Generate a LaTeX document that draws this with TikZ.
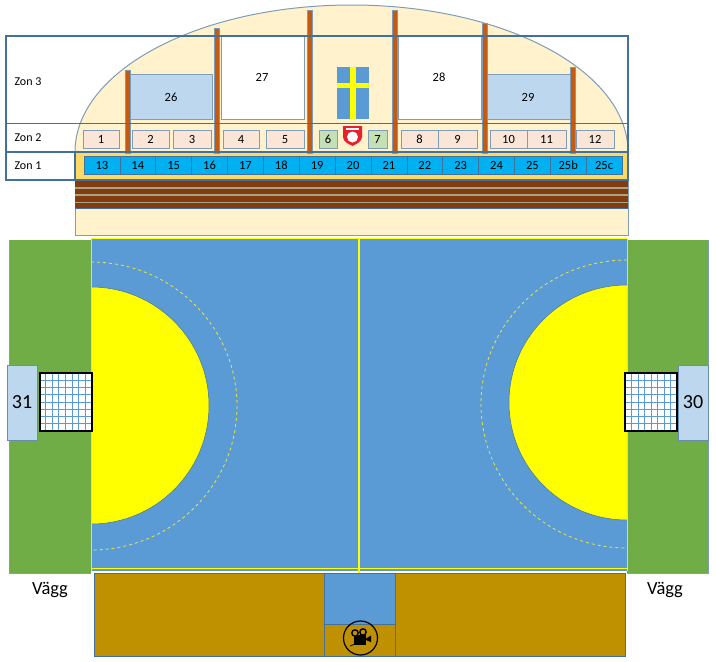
\documentclass[tikz,border=0pt]{standalone}
\usepackage{fontspec}
\setmainfont{Carlito}
\usepackage{xcolor}
\usetikzlibrary{positioning}
\definecolor{cream}{HTML}{FFF2CC}
\definecolor{zonline}{HTML}{41719C}
\definecolor{courtblue}{HTML}{5B9BD5}
\definecolor{wallgreen}{HTML}{70AD47}
\definecolor{standbrown}{HTML}{BF9000}
\definecolor{paleblue}{HTML}{BDD7EE}
\definecolor{peach}{HTML}{FBE5D6}
\definecolor{palegreen}{HTML}{C5E0B4}
\definecolor{pillar}{HTML}{C55A11}
\definecolor{cellblue}{HTML}{00B0F0}
\definecolor{rowgold}{HTML}{FFD966}
\definecolor{benchbrown}{HTML}{843C0C}
\definecolor{benchgrey}{HTML}{A5A58D}
\definecolor{thinedge}{HTML}{7F9DB9}
\definecolor{clubred}{HTML}{E8202A}
\definecolor{lineyellow}{HTML}{FFFF00}
\definecolor{dashyellow}{HTML}{E6E64A}
\tikzset{
  zonlabel/.style={font=\fontsize{12}{14}\selectfont},
  seat/.style={draw=thinedge, line width=1pt, fill=peach},
  seatgreen/.style={draw=thinedge, line width=1pt, fill=palegreen},
  bigbox/.style={draw=thinedge, line width=1pt},
  cell/.style={draw=zonline, line width=.6pt, fill=cellblue},
  post/.style={fill=pillar, draw=zonline!70, line width=.3pt},
  netbox/.style={draw=black, line width=2.6pt},
  num/.style={font=\fontsize{12.5}{14}\selectfont, text height=8pt, text depth=0pt},
  goalnum/.style={font=\fontsize{20}{22}\selectfont},
  wallnum/.style={font=\fontsize{18.5}{20}\selectfont},
}
\begin{document}
\begin{tikzpicture}[x=1pt,y=-1pt]
  \useasboundingbox (0,0) rectangle (716,662);
  \def\domeY{152}

  % stands behind the seats
  \fill[cream] (75,\domeY) arc[start angle=180, end angle=360, x radius=276.5, y radius=147] -- (628,235) -- (75,235) -- cycle;
  \draw[thinedge, line width=1pt] (75,\domeY) arc[start angle=180, end angle=360, x radius=276.5, y radius=147];
  \draw[thinedge, line width=1pt] (75,\domeY) -- (75,235) -- (628,235) -- (628,\domeY);

  % big boxes in zon 3
  \draw[bigbox, fill=paleblue] (129,74) rectangle (212,119);
  \draw[bigbox, fill=white] (221,36) rectangle (304,119);
  \draw[bigbox, fill=white] (398,36) rectangle (481,119);
  \draw[bigbox, fill=paleblue] (487,74) rectangle (570,119);
  \node[num] (n26) at (171,97) {26};
  \node[num] (n27) at (262,77) {27};
  \node[num] (n28) at (439,77) {28};
  \node[num] (n29) at (528,97) {29};

  % flag
  \fill[courtblue] (337,67) rectangle (369,119);
  \fill[lineyellow] (350,67) rectangle (356,119);
  \fill[lineyellow] (337,83) rectangle (369,88);

  % club logo
  \fill[clubred] (343,126) -- (362,126) -- (362,137) .. controls (362,142) and (356,144) .. (352.5,146) .. controls (349,144) and (343,142) .. (343,137) -- cycle;
  \fill[white] (352.5,137) circle (5.5);
  \fill[white] (346,128) rectangle (359,130);

  % seats zon 2
  \foreach \xa/\xb/\n in {83/119/1,132/169/2,173/211/3,223/259/4,266/304/5,401/438/8,438/477/9,490/527/10,527/566/11,576/614/12}{
    \draw[seat] (\xa,130) rectangle (\xb,148.5);
    \node[num] (s\n) at ({(\xa+\xb)/2},139.5) {\n};
  }
  \draw[seatgreen] (319,130) rectangle (337,148.5);
  \node[num] (s6) at (328,139.5) {6};
  \draw[seatgreen] (368,130) rectangle (387,148.5);
  \node[num] (s7) at (377.5,139.5) {7};

  % row of zon 1
  \fill[rowgold] (75,152) rectangle (628,180);
  \foreach \i/\n in {0/13,1/14,2/15,3/16,4/17,5/18,6/19,7/20,8/21,9/22,10/23,11/24,12/25,13/25b,14/25c}{
    \draw[cell] ({84+35.87*\i},156) rectangle ({84+35.87*(\i+1)},174);
    \node[num] (c\n) at ({84+35.87*(\i+.5)},165) {\n};
  }

  % benches
  \fill[benchgrey] (75,180) rectangle (628,208);
  \foreach \y in {181,188.5,196,203}{
    \fill[benchbrown] (75,\y) rectangle (628,\y+5.5);
  }
  \draw[zonline, line width=1pt] (75,208.5) -- (628,208.5);

  % posts
  \foreach \xa/\ya in {125/70,214/28,307/10,392/10,482/23,570/67}{
    \draw[post] (\xa,\ya) rectangle (\xa+5,153);
  }

  % zones
  \draw[zonline, line width=1.3pt] (6,36) rectangle (628,123.5);
  \draw[zonline, line width=1.3pt] (6,123.5) rectangle (628,152);
  \draw[zonline, line width=1.3pt] (6,152) rectangle (75,180);
  \draw[zonline, line width=1.3pt] (75,180) -- (628,180) -- (628,152);
  \node[zonlabel, anchor=west] (zon3) at (11,82) {Zon 3};
  \node[zonlabel, anchor=west] (zon2) at (11,138) {Zon 2};
  \node[zonlabel, anchor=west] (zon1) at (11,166) {Zon 1};

  % walls and court
  \fill[wallgreen] (9,240) rectangle (91,573);
  \fill[wallgreen] (627,240) rectangle (708,573);
  \draw[thinedge] (9,240) -- (9,573) -- (91,573);
  \draw[thinedge] (708,240) -- (708,573) -- (627,573);
  \fill[courtblue] (91,239) rectangle (627,571);

  % goal areas
  \fill[lineyellow] (91,287) arc[start angle=-90, end angle=90, x radius=118, y radius=118.5] -- cycle;
  \draw[zonline, line width=.5pt] (91,287) arc[start angle=-90, end angle=90, x radius=118, y radius=118.5];
  \fill[lineyellow] (627,285) arc[start angle=-90, end angle=-270, x radius=118, y radius=117.5] -- cycle;
  \draw[zonline, line width=.5pt] (627,285) arc[start angle=-90, end angle=-270, x radius=118, y radius=117.5];
  \draw[dashyellow, dashed, line width=.8pt] (91,262) arc[start angle=-90, end angle=90, x radius=146, y radius=144];
  \draw[dashyellow, dashed, line width=.8pt] (627,260) arc[start angle=-90, end angle=-270, x radius=146, y radius=144];

  % court lines
  \draw[lineyellow, line width=1.8pt] (91,238.5) -- (627,238.5);
  \draw[lineyellow, line width=1.8pt] (91,568.5) -- (627,568.5);
  \draw[lineyellow, line width=1.8pt] (359,239) -- (359,573);
  \draw[palegreen, line width=.8pt] (91,239) -- (91,571);
  \draw[palegreen, line width=.8pt] (627,239) -- (627,571);

  % goals
  \fill[white] (39,373) rectangle (92,431);
  \fill[white] (625,373) rectangle (677,431);
  \foreach \i in {1,...,7}{
    \draw[courtblue, line width=.7pt] (39+6.6*\i,373) -- (39+6.6*\i,431);
    \draw[courtblue, line width=.7pt] (625+6.5*\i,373) -- (625+6.5*\i,431);
    \draw[courtblue, line width=.7pt] (39,373+7.25*\i) -- (92,373+7.25*\i);
    \draw[courtblue, line width=.7pt] (625,373+7.25*\i) -- (677,373+7.25*\i);
  }
  \draw[netbox] (40,373) rectangle (92,431);
  \draw[netbox] (625,373) rectangle (677,431);
  \draw[bigbox, fill=paleblue, draw=zonline!80] (7,365) rectangle (37,440);
  \draw[bigbox, fill=paleblue, draw=zonline!80] (678,365) rectangle (708,440);
  \node[goalnum] (g31) at (22,402) {31};
  \node[goalnum] (g30) at (693,402) {30};

  % bottom stand
  \draw[zonline, fill=standbrown, line width=.7pt] (94.5,573) rectangle (324,656);
  \draw[zonline, fill=standbrown, line width=.7pt] (395,573) rectangle (625,656);
  \draw[zonline, fill=courtblue, line width=.7pt] (324,573) rectangle (395,624);
  \draw[zonline, fill=standbrown, line width=.7pt] (324,624) rectangle (395,656);

  % camera
  \draw[black, line width=1.2pt] (360.5,638) circle (17);
  \fill[black] (354,635) rectangle (366,644.5);
  \fill[black] (366,638.5) -- (371,635.5) -- (371,642) -- (366,640) -- cycle;
  \draw[black, line width=1.4pt, fill=standbrown] (355,633) circle (3.2);
  \draw[black, line width=1.4pt, fill=standbrown] (363,632) circle (3.2);
  \draw[black, line width=.8pt] (355,644) -- (350,646);

  \node[wallnum] (vagg1) at (50,590) {Vägg};
  \node[wallnum] (vagg2) at (665,590) {Vägg};
\end{tikzpicture}
\end{document}
